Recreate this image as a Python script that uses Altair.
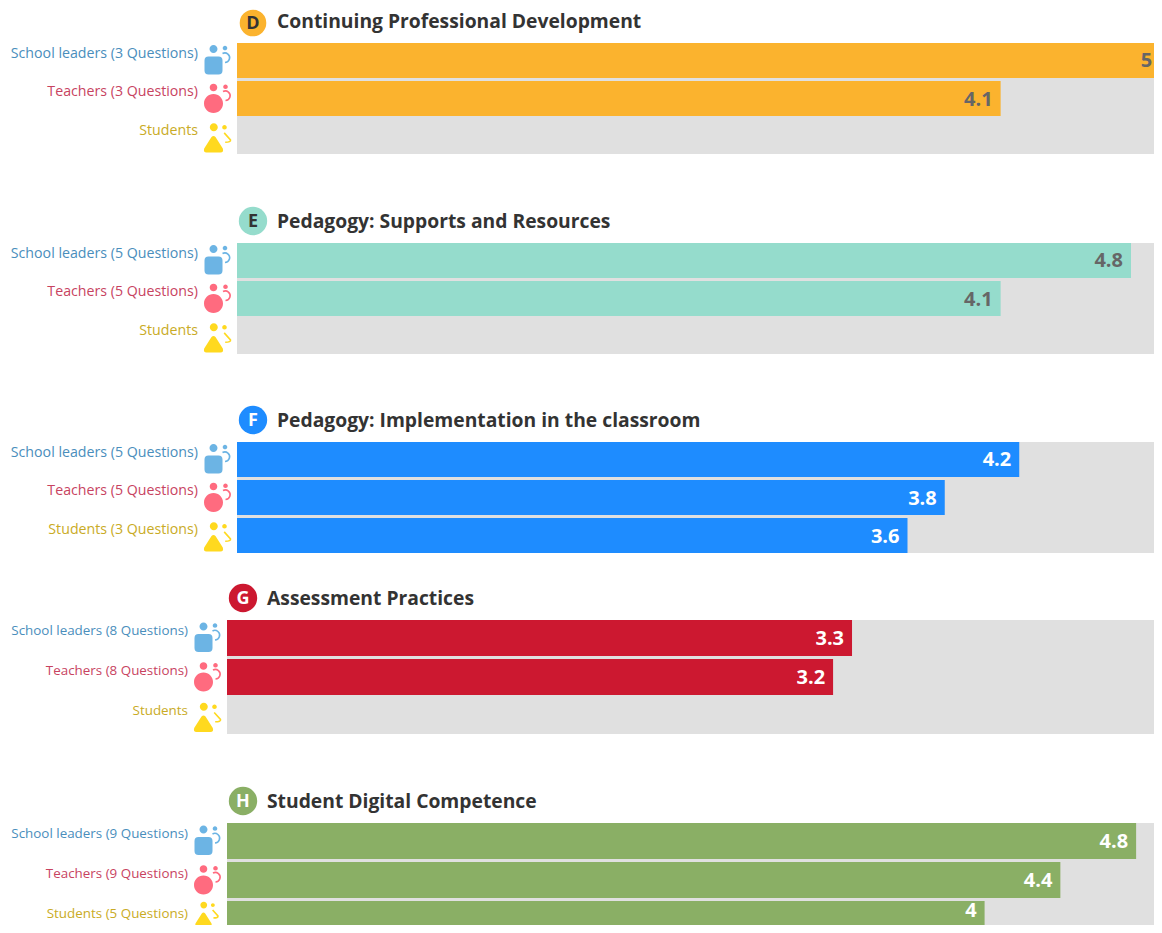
import math
import altair as alt
import pandas as pd

letters = ["D", "E", "F", "G", "H"]
titles = ["Continuing Professional Development", "Pedagogy: Supports and Resources",
          "Pedagogy: Implementation in the classroom", "Assessment Practices",
          "Student Digital Competence"]
colors = ["#fbb32e", "#95dccc", "#1e8cff", "#cc1830", "#8aaf65"]
value_colors = ["#666666", "#666666", "#ffffff", "#ffffff", "#ffffff"]
badge_text = ["#333333", "#333333", "#ffffff", "#ffffff", "#ffffff"]
roles = ["leaders", "teachers", "students"]
labels = [
    ["School leaders (3 Questions)", "Teachers (3 Questions)", "Students"],
    ["School leaders (5 Questions)", "Teachers (5 Questions)", "Students"],
    ["School leaders (5 Questions)", "Teachers (5 Questions)", "Students (3 Questions)"],
    ["School leaders (8 Questions)", "Teachers (8 Questions)", "Students"],
    ["School leaders (9 Questions)", "Teachers (9 Questions)", "Students (5 Questions)"],
]
values = [
    [5, 4.1, None],
    [4.8, 4.1, None],
    [4.2, 3.8, 3.6],
    [3.3, 3.2, None],
    [4.8, 4.4, 4],
]
FONT = "Open Sans"
label_colors = ["#4a8ebc", "#c8435f", "#c9ab25"]
icon_colors = ["#6cb4e4", "#ff6b7f", "#ffd91f"]


def circ(x, y, r):
    return f"M{x-r} {y}A{r} {r} 0 1 0 {x+r} {y}A{r} {r} 0 1 0 {x-r} {y}Z"


leader = ("M-5 -4H5Q9 -4 9 0V10Q9 14 5 14H-5Q-9 14 -9 10V0Q-9 -4 -5 -4Z"
          + circ(0, -11.4, 4) + circ(11.5, -12.4, 2.3))
teacher = circ(0, 5, 9.5) + circ(0, -11, 3.8) + circ(12, -11.7, 2.3)
student = ("M-2 0.5Q0 -1.5 2 0.5L9.3 12Q10.5 16 7 16H-7Q-10.5 16 -9.3 12Z"
           + circ(0.3, -9.3, 4) + circ(11, -9.3, 2.3))
paths = [leader, teacher, student]
arcs = ["M9 -7A4.8 4.8 0 1 1 11.5 2", "M9.5 -7A4.8 4.8 0 1 1 12 2", "M10.7 -3.6L17 3.4Q17.6 5.7 11.7 5.7"]

bar_left = [10, 10, 10, 0, 0]
unit = [186.25, 186.25, 186.25, 189.4, 189.4]
tops = [0, 200, 399, 577, 780]
band_h = [111, 111, 111, 114, 114]
label_size = [14.2, 14.2, 14.2, 13.4, 13.4]
badge_r = [15, 16, 16, 16, 16]
badge_y = [-20, -22, -22, -22, -22]
label_dy = [-6.5, -6.5, -5.5]
# the svg stops 8px short of the window on the right and bottom: keep edge marks inside
num_dx = [[-16, -8, -8], [-8, -8, -8], [-8, -8, -8], [-8, -8, -8], [-8, -8, -8]]
num_dy = [[1, 1, 1], [1, 1, 1], [1, 1, 1], [1, 1, 1], [1, 1, -8]]
icon_size = [[4, 4, 4], [4, 4, 4], [4, 4, 4], [4, 4, 4], [4, 4, 2.9]]
icon_lift = [[0, 0, 0], [0, 0, 0], [0, 0, 0], [0, 0, 0], [0, 0, -6]]
PW = 927
PH = 882

panels = []
for i in range(5):
    t = tops[i]
    df = pd.DataFrame({"role": roles, "label": labels[i], "value": values[i],
                       "zero": 0, "full": 5})
    xs = alt.Scale(domain=[0, 5], range=[bar_left[i], bar_left[i] + unit[i] * 5], nice=False, zero=False)
    ys = alt.Scale(domain=roles, range=[t, t + band_h[i]], paddingInner=0.079, paddingOuter=0)
    Y = alt.Y("role:N", scale=ys, axis=None, sort=None)
    head = pd.DataFrame({"letter": [letters[i]], "title": [titles[i]]})

    grey = alt.Chart(df.head(1)).mark_rect(color="#e0e0e0", clip=True).encode(
        x=alt.X("zero:Q", scale=xs, axis=None), x2="full:Q",
        y=alt.value(t), y2=alt.value(t + band_h[i]))
    layers = [grey]
    for r in range(3):
        one = df.iloc[[r]]
        if values[i][r] is not None:
            one_bar = one.assign(txt=f"{values[i][r]:g}")
            layers.append(alt.Chart(one_bar).mark_bar(color=colors[i], clip=True).encode(
                x=alt.X("value:Q", scale=xs, axis=None, stack=None), x2=alt.X2("zero:Q"), y=Y))
            layers.append(alt.Chart(one_bar).mark_text(
                align="right", baseline="middle", dx=num_dx[i][r], dy=num_dy[i][r], font=FONT,
                fontWeight="bold", fontSize=20, color=value_colors[i]).encode(
                x=alt.X("value:Q", scale=xs, axis=None), y=Y, text="txt:N"))
        layers.append(alt.Chart(one).mark_text(
            align="right", baseline="middle", font=FONT, fontSize=label_size[i],
            color=label_colors[r], dy=label_dy[r]).encode(
            x=alt.value(bar_left[i] - 39), y=Y, text="label:N"))
        layers.append(alt.Chart(one).mark_point(
            filled=True, size=icon_size[i][r], opacity=1, strokeWidth=0, shape=paths[r],
            color=icon_colors[r], yOffset=icon_lift[i][r]).encode(
            x=alt.value(bar_left[i] - 23.5), y=Y))
        layers.append(alt.Chart(one).mark_point(
            filled=False, size=icon_size[i][r], opacity=1, strokeWidth=1.6, shape=arcs[r],
            color=icon_colors[r], yOffset=icon_lift[i][r]).encode(
            x=alt.value(bar_left[i] - 23.5), y=Y))
    badge = alt.Chart(head).mark_point(filled=True, opacity=1, strokeWidth=0, shape="circle",
                                       size=math.pi * badge_r[i] ** 2, color=colors[i]).encode(
        x=alt.value(bar_left[i] + 16), y=alt.value(t + badge_y[i]))
    letter = alt.Chart(head).mark_text(align="center", baseline="middle", font=FONT, fontWeight="bold",
                                       fontSize=18, color=badge_text[i]).encode(
        x=alt.value(bar_left[i] + 16), y=alt.value(t + badge_y[i] + 0.5), text="letter:N")
    title = alt.Chart(head).mark_text(align="left", baseline="middle", font=FONT, fontWeight="bold",
                                      fontSize=19.3, color="#333333").encode(
        x=alt.value(bar_left[i] + 40), y=alt.value(t - 21), text="title:N")
    layers += [badge, letter, title]
    panels.append(alt.layer(*layers))

chart = (alt.layer(*panels)
         .resolve_scale(x="independent", y="independent")
         .properties(width=PW, height=PH,
                     padding={"left": 219, "top": 35, "right": 0, "bottom": 0},
                     autosize=alt.AutoSizeParams(type="none"))
         .configure_view(stroke=None))
chart.save("out.html", embed_options={"renderer": "svg", "actions": False})
